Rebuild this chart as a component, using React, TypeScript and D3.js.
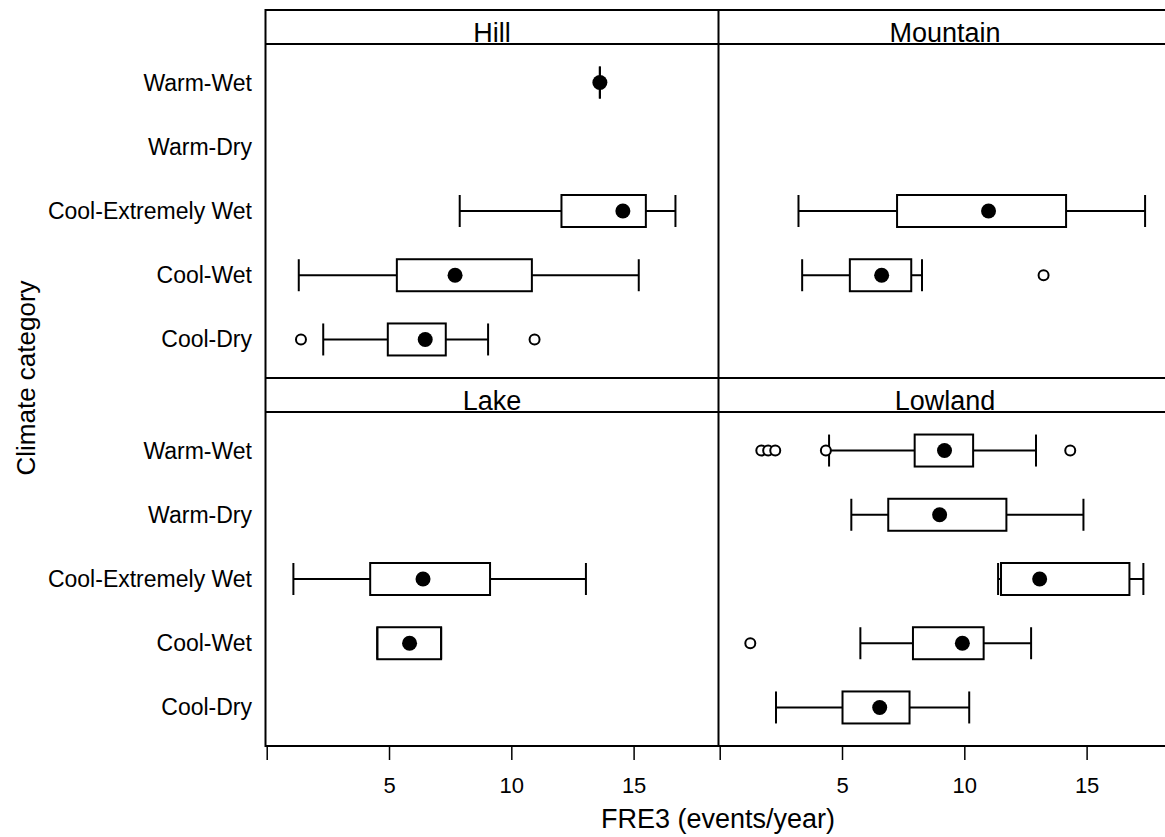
import React from 'react';
import * as d3 from 'd3';

// climate categories, top to bottom
const categories = ['Warm-Wet', 'Warm-Dry', 'Cool-Extremely Wet', 'Cool-Wet', 'Cool-Dry'];
const xTicks = [0, 5, 10, 15];

// [category, lower whisker, q1, median, q3, upper whisker, outliers]
type Row = [string, number, number, number, number, number, number[]];

const hillStats: Row[] = [
  ['Warm-Wet', 13.6, 13.6, 13.6, 13.6, 13.6, []],
  ['Cool-Extremely Wet', 7.87, 12.03, 14.54, 15.48, 16.69, []],
  ['Cool-Wet', 1.29, 5.3, 7.68, 10.82, 15.19, []],
  ['Cool-Dry', 2.29, 4.93, 6.46, 7.3, 9.03, [1.38, 10.93]],
];
const mountainStats: Row[] = [
  ['Cool-Extremely Wet', 3.2, 7.23, 10.97, 14.14, 17.37, []],
  ['Cool-Wet', 3.35, 5.3, 6.6, 7.81, 8.25, [13.22]],
];
const lakeStats: Row[] = [
  ['Cool-Extremely Wet', 1.07, 4.21, 6.37, 9.11, 13.03, []],
  ['Cool-Wet', 4.5, 4.5, 5.82, 7.11, 7.11, []],
];
const lowlandStats: Row[] = [
  ['Warm-Wet', 4.45, 7.95, 9.17, 10.34, 12.91, [1.68, 1.96, 2.25, 4.32, 14.31]],
  ['Warm-Dry', 5.36, 6.87, 8.97, 11.7, 14.85, []],
  ['Cool-Extremely Wet', 11.36, 11.48, 13.06, 16.73, 17.3, []],
  ['Cool-Wet', 5.73, 7.88, 9.9, 10.77, 12.71, [1.23]],
  ['Cool-Dry', 2.28, 5.0, 6.52, 7.74, 10.18, []],
];

const panelNames = ['Hill', 'Mountain', 'Lake', 'Lowland'];
const panelData = [hillStats, mountainStats, lakeStats, lowlandStats];

const W = 1165;
const H = 837;
const left = 265.5;
const panelW = 453;
const top = 10;
const stripH = 34;
const plotH = 334;
const font = '"Liberation Sans", Arial, sans-serif';

const x = d3.scaleLinear().domain([-0.07, 18.45]).range([0, panelW]);
const y = d3.scalePoint<string>().domain(categories).range([0, plotH]).padding(0.6);
const halfBox = 16;

const Panel = ({ name, rows, px, py, bottom }: { name: string; rows: Row[]; px: number; py: number; bottom: boolean }) => {
  const plotTop = py + stripH;
  return (
    <g>
      <text x={px + panelW / 2} y={plotTop - 2.5} textAnchor="middle" fontSize={27} fontFamily={font}>{name}</text>
      <g transform={`translate(${px},${plotTop})`}>
        {rows.map(([cat, lo, q1, med, q3, hi, outs]) => {
          const cy = y(cat)!;
          return (
            <g key={cat} stroke="#000" strokeWidth={2}>
              <line x1={x(lo)} x2={x(q1)} y1={cy} y2={cy} />
              <line x1={x(q3)} x2={x(hi)} y1={cy} y2={cy} />
              <line x1={x(lo)} x2={x(lo)} y1={cy - halfBox} y2={cy + halfBox} />
              <line x1={x(hi)} x2={x(hi)} y1={cy - halfBox} y2={cy + halfBox} />
              <rect x={x(q1)} y={cy - halfBox} width={x(q3) - x(q1)} height={halfBox * 2} fill="none" />
              <circle cx={x(med)} cy={cy} r={7.5} fill="#000" stroke="none" />
              {outs.map((o, i) => (
                <circle key={i} cx={x(o)} cy={cy} r={5} fill="#fff" strokeWidth={2} />
              ))}
            </g>
          );
        })}
        {bottom && xTicks.map(t => (
          <g key={t} transform={`translate(${x(t)},${plotH})`}>
            <line y1={0} y2={14} stroke="#000" strokeWidth={1.5} />
            {t !== 0 && (
              <text y={47} textAnchor="middle" fontSize={22} fontFamily={font}>{t}</text>
            )}
          </g>
        ))}
      </g>
    </g>
  );
};

export default function App() {
  const bottomY = top + 2 * (stripH + plotH);
  return (
    <div style={{ position: 'absolute', left: 0, top: 0 }}>
      <svg width={W} height={H} style={{ display: 'block', background: '#fff' }}>
        {panelNames.map((name, i) => (
          <Panel
            key={name}
            name={name}
            rows={panelData[i]}
            px={left + (i % 2) * panelW}
            py={top + Math.floor(i / 2) * (stripH + plotH)}
            bottom={i >= 2}
          />
        ))}
        {/* row labels */}
        {[0, 1].map(r =>
          categories.map(c => (
            <text key={`${r}-${c}`} x={252} y={top + r * (stripH + plotH) + stripH + y(c)! + 8}
              textAnchor="end" fontSize={23} fontFamily={font}>{c}</text>
          ))
        )}
        {/* frame */}
        <g stroke="#000" strokeWidth={2} fill="none">
          <rect x={left} y={top} width={panelW * 2} height={bottomY - top} />
          <line x1={left + panelW} x2={left + panelW} y1={top} y2={bottomY} />
          <line x1={left} x2={left + 2 * panelW} y1={top + stripH} y2={top + stripH} />
          <line x1={left} x2={left + 2 * panelW} y1={top + stripH + plotH} y2={top + stripH + plotH} />
          <line x1={left} x2={left + 2 * panelW} y1={top + 2 * stripH + plotH} y2={top + 2 * stripH + plotH} />
        </g>
        <text x={718} y={828} textAnchor="middle" fontSize={27} fontFamily={font}>FRE3 (events/year)</text>
        <text transform={`translate(35,378) rotate(-90)`} textAnchor="middle" fontSize={26} fontFamily={font}>Climate category</text>
      </svg>
    </div>
  );
}
